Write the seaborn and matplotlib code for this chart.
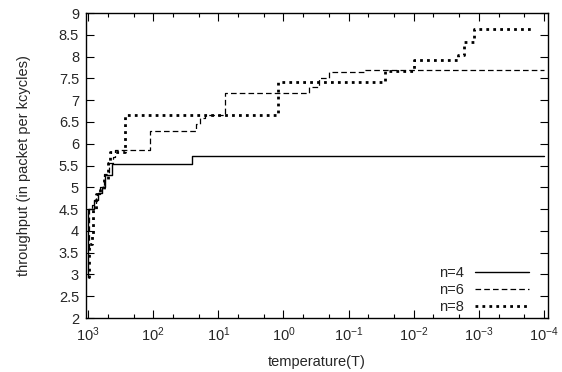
import numpy as np
import pandas as pd
import seaborn as sns
import matplotlib
matplotlib.use("Agg")
import matplotlib.pyplot as plt
from matplotlib.ticker import LogLocator, MultipleLocator, FormatStrFormatter, NullFormatter

# temperature (descending) and throughput, one step per point
t_n4 = [1000, 985, 813, 700, 620, 552, 433, 25.5, 1e-4]
v_n4 = [2.95, 4.5, 4.7, 4.87, 5.0, 5.28, 5.53, 5.71, 5.71]

t_n6 = [1000, 975, 880, 760, 650, 560, 480, 420, 380, 110, 22, 19, 16, 7.8,
        0.40, 0.28, 0.20, 0.056, 1e-4]
v_n6 = [3.6, 4.5, 4.6, 4.85, 5.0, 5.3, 5.55, 5.7, 5.86, 6.3, 6.45, 6.6, 6.66, 7.16,
        7.3, 7.51, 7.65, 7.69, 7.69]

t_n8 = [1000, 960, 880, 840, 760, 650, 560, 500, 460, 275, 1.22, 0.028, 0.010,
        0.0021, 0.0017, 0.0012, 0.00015]
v_n8 = [2.95, 3.7, 3.9, 4.5, 4.85, 4.95, 5.2, 5.55, 5.81, 6.66, 7.42, 7.66, 7.92,
        8.04, 8.33, 8.63, 8.63]

x_ticks = [1e3, 1e2, 1e1, 1e0, 1e-1, 1e-2, 1e-3, 1e-4]
x_labels = ["$10^{3}$", "$10^{2}$", "$10^{1}$", "$10^{0}$", "$10^{-1}$",
            "$10^{-2}$", "$10^{-3}$", "$10^{-4}$"]

sns.set_style("ticks")
plt.rcParams['font.family'] = ['Liberation Sans', 'DejaVu Sans']
plt.rcParams['mathtext.fontset'] = 'custom'
plt.rcParams['mathtext.rm'] = 'Liberation Sans'
plt.rcParams['mathtext.it'] = 'Liberation Sans'

fig = plt.figure(figsize=(5.62, 3.72), dpi=100)
ax = fig.add_axes([86 / 562, 1 - 318 / 372, 462 / 562, 305 / 372])
ax.set_xscale('log')

series = [
    ("n=4", t_n4, v_n4, dict(linestyle='-', linewidth=1.0)),
    ("n=6", t_n6, v_n6, dict(linestyle=(0, (4.5, 2.5)), linewidth=0.9)),
    ("n=8", t_n8, v_n8, dict(linestyle=(0, (1, 1.5)), linewidth=2.0)),
]
for name, t, v, st in series:
    df = pd.DataFrame({"T": t, "throughput": v})
    sns.lineplot(data=df, x="T", y="throughput", ax=ax, color="black",
                 sort=False, estimator=None, drawstyle="steps-post",
                 label=name, **st)

ax.set_xlim(1.073e3, 0.87e-4)
ax.set_ylim(2, 9)
ax.set_xticks(x_ticks)
ax.set_xticklabels(x_labels)
ax.xaxis.set_minor_locator(LogLocator(base=10, subs=(2, 5), numticks=20))
ax.xaxis.set_minor_formatter(NullFormatter())
ax.yaxis.set_major_locator(MultipleLocator(0.5))
ax.yaxis.set_major_formatter(FormatStrFormatter('%g'))

ax.tick_params(which='both', direction='in', top=True, right=True,
               labelsize=10.5, color='black', width=0.8)
ax.tick_params(which='major', length=6, pad=5)
ax.tick_params(which='minor', length=3)
for s in ax.spines.values():
    s.set_linewidth(1.0)
    s.set_color('black')

ax.set_xlabel("temperature(T)", fontsize=10.5, labelpad=8)
ax.set_ylabel("throughput (in packet per kcycles)", fontsize=10.5, labelpad=20)

ax.legend(loc='lower right', bbox_to_anchor=(0.975, -0.01), frameon=False,
          markerfirst=False, handlelength=3.7, fontsize=10.5,
          labelspacing=0.2, handletextpad=0.8, borderaxespad=0.1)

fig.savefig("out.png", dpi=100)
